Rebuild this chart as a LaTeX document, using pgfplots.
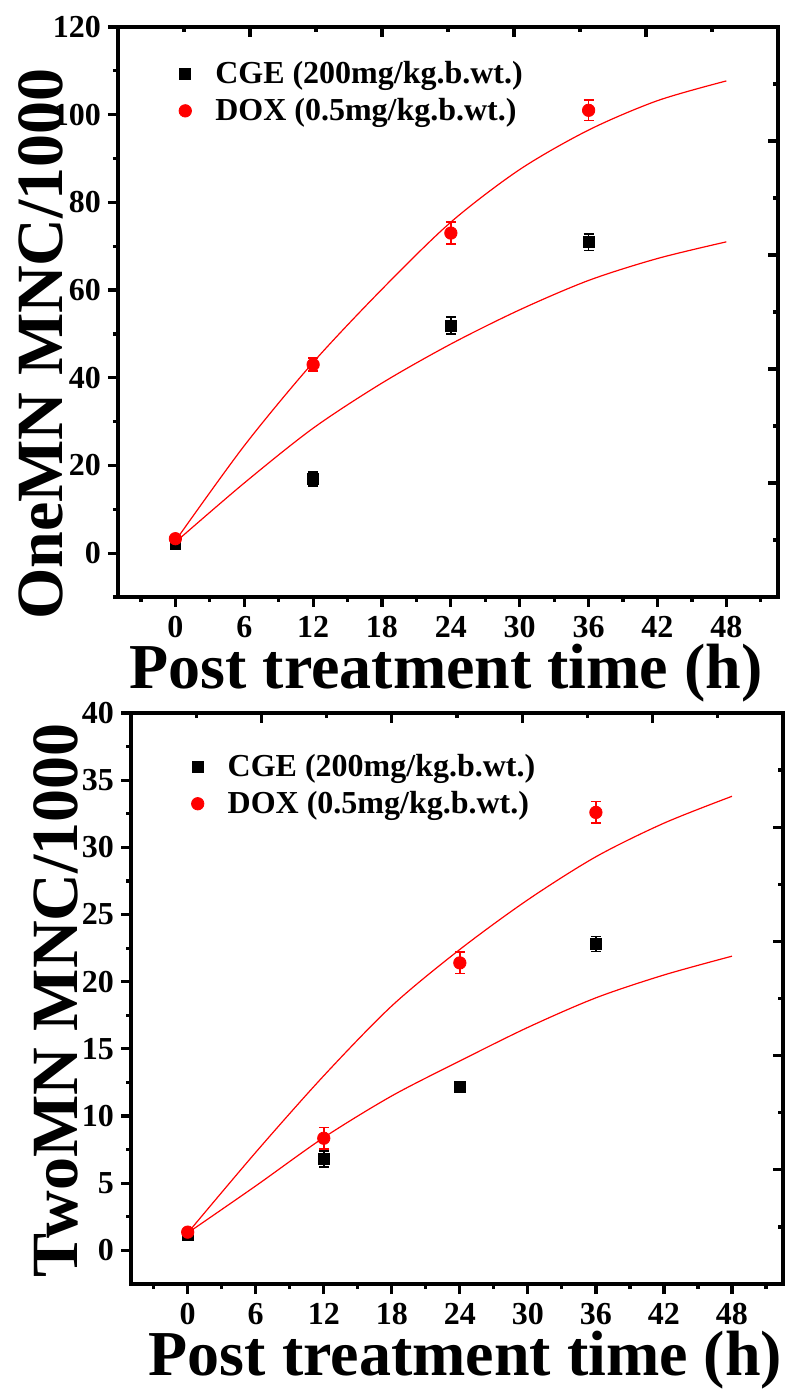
\documentclass[border=0pt]{standalone}
\usepackage{fontspec}
\setmainfont{Liberation Serif}
\usepackage{pgfplots}
\pgfplotsset{compat=1.18}

\pgfplotsset{
  mainax/.style={
    scale only axis, anchor=south west,
    xmin=-5, xmax=52.5,
    xtick={0,6,...,48}, minor xtick={-3,3,...,51},
    axis line style={line width=2pt},
    every tick/.style={black, line width=1.6pt},
    major tick length=5pt, minor tick length=2.5pt,
    tick align=outside, xtick pos=bottom, ytick pos=left,
    /pgf/number format/assume math mode=true,
    tick label style={font=\fontsize{16}{16}\selectfont\bfseries},
    xticklabel style={inner sep=1pt, yshift=-3.3pt},
    xlabel style={font=\fontsize{32}{32}\selectfont\bfseries, anchor=base, inner sep=0pt},
    ylabel style={font=\fontsize{33}{33}\selectfont\bfseries, anchor=center},
    legend style={draw=none, fill=none, font=\fontsize{16}{16}\selectfont\bfseries,
      anchor=north west, row sep=2pt},
    legend cell align=left,
    legend image code/.code={\path[draw=none] (0pt,0pt) (21pt,0pt); \draw[##1] plot coordinates {(8pt,0pt)};},
  },
  mirrorax/.style={
    scale only axis, anchor=south west,
    xmin=0, xmax=1, ymin=0, ymax=1,
    axis line style={line width=2pt},
    every tick/.style={black, line width=1.6pt},
    major tick length=5pt, minor tick length=2.5pt,
    tick align=inside, xtick pos=top, ytick pos=right,
    xtick={0.2,0.4,0.6,0.8}, minor xtick={0.1,0.3,0.5,0.7,0.9},
    ytick={0.2,0.4,0.6,0.8}, minor ytick={0.1,0.3,0.5,0.7,0.9},
    xticklabels={}, yticklabels={},
  },
  cge/.style={black, only marks, mark=square*, mark size=2.7pt,
    error bars/.cd, y dir=both, y explicit,
    error bar style={black, line width=0.8pt},
    error mark options={rotate=90, black, mark size=2.5pt, line width=0.8pt}},
  dox/.style={red, only marks, mark=*, mark size=3.1pt,
    error bars/.cd, y dir=both, y explicit,
    error bar style={red, line width=0.8pt},
    error mark options={rotate=90, red, mark size=2.5pt, line width=0.8pt}},
  fit/.style={red, line width=0.6pt, smooth, no marks, forget plot},
}

\begin{document}
\begin{tikzpicture}
\path[use as bounding box] (0,0) rectangle (395pt,694.5pt);

% top panel
\begin{axis}[mainax, at={(59pt,396pt)}, width=330pt, height=285pt,
    ymin=-10, ymax=120,
    ytick={0,20,...,120}, minor ytick={-10,10,...,110},
    xlabel={Post treatment time (h)},
    xlabel style={at={(axis description cs:0.497,-0.16)}},
    ylabel={OneMN MNC/1000},
    ylabel style={at={(axis description cs:-0.117,0.444)}},
    legend style={at={(axis description cs:0.068,0.955)}},
  ]
  \addplot[fit] coordinates {(0,2.8) (6,24.5) (12,43.5) (18,60.2) (24,75.5) (30,87.5) (36,96.5) (42,103.2) (48,107.7)};
  \addplot[fit] coordinates {(0,2.5) (6,16.0) (12,28.5) (18,38.8) (24,47.7) (30,55.5) (36,62.2) (42,67.2) (48,71.0)};
  \addplot[cge] coordinates {(0,2.2) +- (0,0.5) (12,16.9) +- (0,1.6) (24,51.9) +- (0,1.9) (36,70.9) +- (0,1.9)};
  \addlegendentry{CGE (200mg/kg.b.wt.)}
  \addplot[dox] coordinates {(0,3.3) +- (0,0.6) (12,43.0) +- (0,1.5) (24,73.0) +- (0,2.5) (36,101.0) +- (0,2.3)};
  \addlegendentry{DOX (0.5mg/kg.b.wt.)}
\end{axis}
\begin{axis}[mirrorax, at={(59pt,396pt)}, width=330pt, height=285pt]
\end{axis}

% bottom panel
\begin{axis}[mainax, at={(65.5pt,52.5pt)}, width=326pt, height=285.5pt,
    ymin=-2.5, ymax=40,
    ytick={0,5,...,40}, minor ytick={2.5,7.5,...,37.5},
    xlabel={Post treatment time (h)},
    xlabel style={at={(axis description cs:0.513,-0.16)}},
    ylabel={TwoMN MNC/1000},
    ylabel style={at={(axis description cs:-0.115,0.497)}},
    legend style={at={(axis description cs:0.068,0.943)}},
  ]
  \addplot[fit] coordinates {(0,1.3) (6,7.3) (12,13.0) (18,18.2) (24,22.4) (30,26.1) (36,29.3) (42,31.8) (48,33.8)};
  \addplot[fit] coordinates {(0,1.3) (6,4.8) (12,8.4) (18,11.5) (24,14.1) (30,16.6) (36,18.8) (42,20.5) (48,21.9)};
  \addplot[cge] coordinates {(0,1.16) +- (0,0.2) (12,6.8) +- (0,0.6) (24,12.2) +- (0,0.3) (36,22.8) +- (0,0.55)};
  \addlegendentry{CGE (200mg/kg.b.wt.)}
  \addplot[dox] coordinates {(0,1.36) +- (0,0.2) (12,8.35) +- (0,0.8) (24,21.4) +- (0,0.8) (36,32.6) +- (0,0.8)};
  \addlegendentry{DOX (0.5mg/kg.b.wt.)}
\end{axis}
\begin{axis}[mirrorax, at={(65.5pt,52.5pt)}, width=326pt, height=285.5pt]
\end{axis}
\end{tikzpicture}
\end{document}
